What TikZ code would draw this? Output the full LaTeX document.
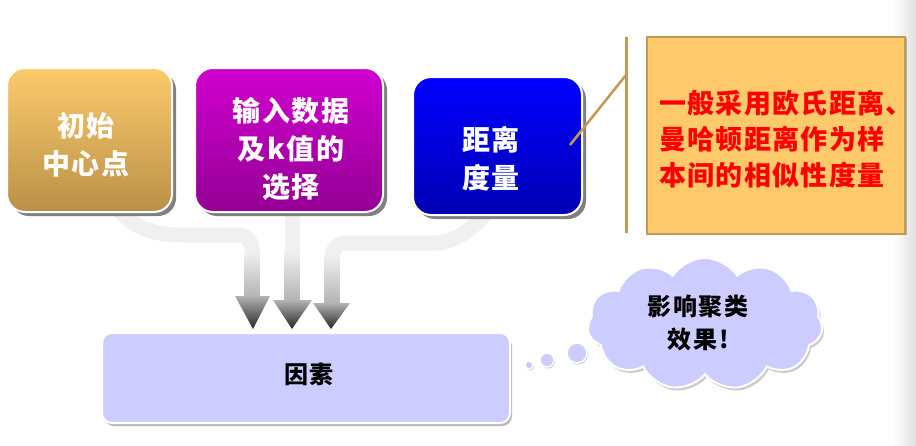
\documentclass[tikz,border=0pt]{standalone}
\usepackage{fontspec}
\newfontfamily\cjk{Noto Sans CJK SC}
\newfontfamily\cjkwide[LetterSpace=6]{Noto Sans CJK SC}
\newfontfamily\cjknote[LetterSpace=5]{Noto Sans CJK SC}
\newfontfamily\cjkcloud[LetterSpace=8]{Noto Sans CJK SC}
\usetikzlibrary{shapes.symbols,shadows}
\definecolor{goldT}{HTML}{FBCB6B}
\definecolor{goldB}{HTML}{BA9048}
\definecolor{purT}{HTML}{D000D0}
\definecolor{purB}{HTML}{940094}
\definecolor{bluT}{HTML}{0000FF}
\definecolor{bluB}{HTML}{0000B4}
\definecolor{tanline}{HTML}{C19A55}
\definecolor{orangebox}{HTML}{FDC96A}
\definecolor{lav}{HTML}{CCCCFF}
\definecolor{shadowgray}{HTML}{808080}
\begin{document}
\begin{tikzpicture}[x=1pt,y=-1pt,
  box/.style={rounded corners=18pt, draw=white, line width=2pt, inner sep=0pt,
    drop shadow={shadow xshift=4pt, shadow yshift=-4pt, fill=shadowgray, opacity=1}},
  boxtext/.style={text=white, font=\cjkwide\bfseries\fontsize{28}{38}\selectfont, align=center, inner sep=0pt},
  pipe/.style={line width=15pt, draw=gray!12, rounded corners=14pt},
  shaft/.style={top color=gray!12, bottom color=gray!60, draw=none},
  head/.style={top color=gray!60, bottom color=black!85, draw=none},
  bubble/.style={circle, fill=lav, draw=white, line width=1.5pt, inner sep=0pt,
    drop shadow={shadow xshift=1pt, shadow yshift=-1.5pt, fill=gray!40, opacity=1}}]
\useasboundingbox (0,0) rectangle (916,445);
% right edge shading
\shade[left color=white, right color=gray!25] (893,0) rectangle (916,445);

% pipes
\coordinate (p1s) at (115,205);
\coordinate (p1m) at (200,235);
\coordinate (p1c) at (252,235);
\coordinate (p1e) at (252,254);
\coordinate (p2s) at (292,212);
\coordinate (p2e) at (292,254);
\coordinate (p3s) at (492,205);
\coordinate (p3m) at (420,243);
\coordinate (p3c) at (332,243);
\coordinate (p3e) at (332,258);
\draw[pipe] (p1s) to[out=-55,in=180] (p1m) -- (p1c) -- (p1e);
\draw[pipe] (p2s) -- (p2e);
\draw[pipe] (p3s) to[out=-125,in=0] (p3m) -- (p3c) -- (p3e);
\shade[shaft] (244.5,252) rectangle (259.5,298);
\shade[shaft] (284.5,252) rectangle (299.5,301);
\shade[shaft] (324.5,256) rectangle (339.5,304);
\shade[head] (235,296) -- (270,296) -- (253,329) -- cycle;
\shade[head] (273,300) -- (312,300) -- (292,329) -- cycle;
\shade[head] (313,303) -- (350,303) -- (331,329) -- cycle;

% top boxes
\node[box, top color=goldT, bottom color=goldB, minimum width=165pt, minimum height=144pt]
  (b1) at (89.5,140) {};
\node[boxtext] (b1t) at (86,145) {初始\\中心点};
\node[box, top color=purT, bottom color=purB, minimum width=188pt, minimum height=144pt]
  (b2) at (289,140) {};
\node[boxtext] (b2t) at (291,149) {输入数据\\及k值的\\选择};
\node[box, top color=bluT, bottom color=bluB, minimum width=169pt, minimum height=138pt]
  (b3) at (497.5,146) {};
\node[boxtext] (b3t) at (491,159) {距离\\度量};

% callout
\coordinate (vt) at (626,37);
\coordinate (vb) at (626,233);
\coordinate (vj) at (626,75);
\coordinate (cs) at (570,145);
\draw[tanline, line width=3pt] (vt) -- (vb);
\draw[tanline, line width=2.5pt] (cs) -- (vj);
\node[fill=orangebox, draw=tanline, line width=2.5pt, minimum width=258pt, minimum height=197pt,
  inner sep=0pt,
  drop shadow={shadow xshift=2pt, shadow yshift=-1pt, fill=gray!60, opacity=1}]
  (note) at (776,135.5) {};
\node[anchor=west, inner sep=0pt, align=left, text=red,
  font=\cjknote\bfseries\fontsize{27}{36}\selectfont]
  (notet) at (659,139) {一般采用欧氏距离、\\曼哈顿距离作为样\\本间的相似性度量};

% bottom box
\node[rounded corners=10pt, fill=lav, draw=white, line width=2pt, minimum width=408pt,
  minimum height=90pt, inner sep=0pt,
  drop shadow={shadow xshift=2pt, shadow yshift=-3pt, fill=gray!55, opacity=1}]
  (f) at (306,378) {};
\node[inner sep=0pt, font=\cjkcloud\bfseries\fontsize{24}{28}\selectfont] (ft) at (309,374) {因素};

% thought cloud
\node[cloud, cloud puffs=11, cloud puff arc=115, aspect=1.8, fill=lav, draw=white,
  line width=2pt, minimum width=235pt, minimum height=132pt, inner sep=0pt,
  drop shadow={shadow xshift=2pt, shadow yshift=-3pt, fill=gray!40, opacity=1}]
  (cl) at (705,324) {};
\node[inner sep=0pt, align=center, font=\cjkcloud\bfseries\fontsize{24}{33}\selectfont]
  (clt) at (698,323) {影响聚类\\效果!};
\node[bubble, minimum size=20pt] (k1) at (577,353) {};
\node[bubble, minimum size=14pt] (k2) at (547,360) {};
\node[bubble, minimum size=8pt] (k3) at (529,365) {};
\end{tikzpicture}
\end{document}
